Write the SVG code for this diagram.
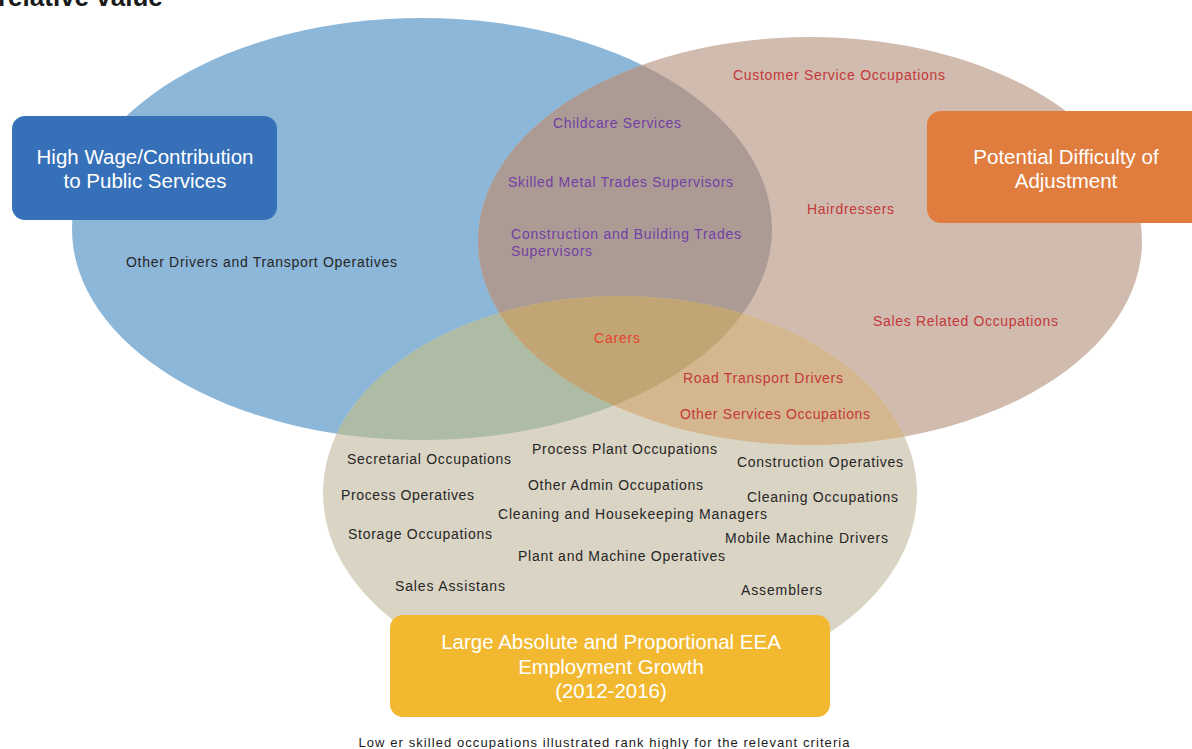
<svg xmlns="http://www.w3.org/2000/svg" width="1192" height="749" viewBox="0 0 1192 749">
<style>
text{font-family:"Liberation Sans",Arial,sans-serif}
.lb{font-size:14px}
.dk{fill:#262626}
.pu{fill:#7340A6}
.rd{fill:#C4383A}
.bx{font-size:20.5px;fill:#ffffff;text-anchor:middle}
</style>
<defs>
<clipPath id="cBlue"><ellipse cx="422" cy="229" rx="350" ry="211"/></clipPath>
<clipPath id="cBrown"><ellipse cx="810" cy="241" rx="332" ry="204"/></clipPath>
<clipPath id="cBottom"><ellipse cx="620" cy="493" rx="297" ry="197"/></clipPath>
</defs>
<rect width="1192" height="749" fill="#ffffff"/>
<text x="-2" y="6" font-size="26" font-weight="bold" fill="#1a1a1a">relative value</text>
<g id="circles">
<ellipse id="c-blue" cx="422" cy="229" rx="350" ry="211" fill="#8CB7D9"/>
<ellipse id="c-brown" cx="810" cy="241" rx="332" ry="204" fill="#D0BBAE"/>
<ellipse id="c-bottom" cx="620" cy="493" rx="297" ry="197" fill="#DAD4C4"/>
<g clip-path="url(#cBlue)"><ellipse cx="810" cy="241" rx="332" ry="204" fill="#AB9B94"/></g>
<g clip-path="url(#cBlue)"><ellipse cx="620" cy="493" rx="297" ry="197" fill="#AEBBA5"/></g>
<g clip-path="url(#cBrown)"><ellipse cx="620" cy="493" rx="297" ry="197" fill="#D4B78E"/></g>
<g clip-path="url(#cBrown)"><ellipse cx="620" cy="493" rx="297" ry="197" fill="#C1A575" clip-path="url(#cBlue)"/></g>
</g>
<g id="labels">
<text class="lb rd" x="733" y="80" textLength="212" lengthAdjust="spacing">Customer Service Occupations</text>
<text class="lb pu" x="553" y="128" textLength="128" lengthAdjust="spacing">Childcare Services</text>
<text class="lb pu" x="508" y="187" textLength="225" lengthAdjust="spacing">Skilled Metal Trades Supervisors</text>
<text class="lb pu" x="511" y="239" textLength="230" lengthAdjust="spacing">Construction and Building Trades</text>
<text class="lb pu" x="511" y="256" textLength="81" lengthAdjust="spacing">Supervisors</text>
<text class="lb rd" x="807" y="214" textLength="87" lengthAdjust="spacing">Hairdressers</text>
<text class="lb dk" x="126" y="267" textLength="271" lengthAdjust="spacing">Other Drivers and Transport Operatives</text>
<text class="lb rd" x="873" y="326" textLength="185" lengthAdjust="spacing">Sales Related Occupations</text>
<text class="lb" x="594" y="343" fill="#E8432E" textLength="46" lengthAdjust="spacing">Carers</text>
<text class="lb rd" x="683" y="383" textLength="160" lengthAdjust="spacing">Road Transport Drivers</text>
<text class="lb rd" x="680" y="419" textLength="190" lengthAdjust="spacing">Other Services Occupations</text>
<text class="lb dk" x="532" y="454" textLength="185" lengthAdjust="spacing">Process Plant Occupations</text>
<text class="lb dk" x="347" y="464" textLength="164" lengthAdjust="spacing">Secretarial Occupations</text>
<text class="lb dk" x="737" y="467" textLength="166" lengthAdjust="spacing">Construction Operatives</text>
<text class="lb dk" x="528" y="490" textLength="175" lengthAdjust="spacing">Other Admin Occupations</text>
<text class="lb dk" x="341" y="500" textLength="133" lengthAdjust="spacing">Process Operatives</text>
<text class="lb dk" x="747" y="502" textLength="151" lengthAdjust="spacing">Cleaning Occupations</text>
<text class="lb dk" x="498" y="519" textLength="269" lengthAdjust="spacing">Cleaning and Housekeeping Managers</text>
<text class="lb dk" x="348" y="539" textLength="144" lengthAdjust="spacing">Storage Occupations</text>
<text class="lb dk" x="725" y="543" textLength="163" lengthAdjust="spacing">Mobile Machine Drivers</text>
<text class="lb dk" x="518" y="561" textLength="207" lengthAdjust="spacing">Plant and Machine Operatives</text>
<text class="lb dk" x="395" y="591" textLength="110" lengthAdjust="spacing">Sales Assistans</text>
<text class="lb dk" x="741" y="595" textLength="81" lengthAdjust="spacing">Assemblers</text>
</g>
<g id="box-high-wage">
<rect x="12" y="116" width="265" height="104" rx="13" fill="#3670B8"/>
<text class="bx" x="145" y="164">High Wage/Contribution</text>
<text class="bx" x="145" y="188">to Public Services</text>
</g>
<g id="box-difficulty">
<rect x="927" y="111" width="280" height="112" rx="14" fill="#E07C3E"/>
<text class="bx" x="1066" y="164">Potential Difficulty of</text>
<text class="bx" x="1066" y="188">Adjustment</text>
</g>
<g id="box-growth">
<rect x="390" y="615" width="440" height="102" rx="13" fill="#F1B830"/>
<text class="bx" x="611" y="649">Large Absolute and Proportional EEA</text>
<text class="bx" x="611" y="674">Employment Growth</text>
<text class="bx" x="611" y="698">(2012-2016)</text>
</g>
<text x="604" y="747" font-size="13" fill="#1a1a1a" text-anchor="middle" textLength="491" lengthAdjust="spacing">Low er skilled occupations illustrated rank highly for the relevant criteria</text>
</svg>
